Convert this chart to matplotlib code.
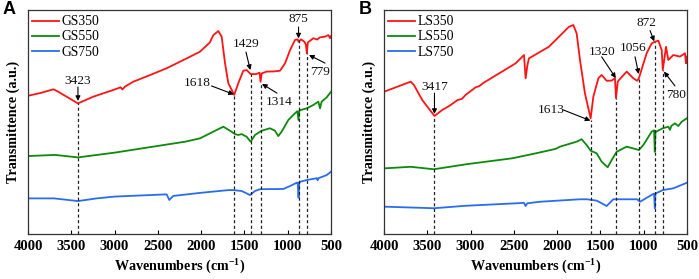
import matplotlib
matplotlib.use("Agg")
import matplotlib.pyplot as plt

plt.rcParams['font.family'] = ['Liberation Serif', 'DejaVu Serif']
plt.rcParams['mathtext.fontset'] = 'custom'
plt.rcParams['mathtext.rm'] = 'Liberation Serif:bold'
plt.rcParams['mathtext.it'] = 'Liberation Serif:bold'
plt.rcParams['mathtext.bf'] = 'Liberation Serif:bold'

# ---------------- Panel A data ----------------
gs350_wn = [4000, 3850, 3707, 3650, 3423, 3246, 3015, 2930, 2910, 2880, 2783, 2600, 2398, 2167,
            2013, 1900, 1859, 1802, 1763, 1724, 1686, 1618, 1571, 1513, 1474, 1429, 1364, 1325,
            1314, 1300, 1243, 1150, 1089, 1031, 973, 916, 885, 875, 846, 807, 790, 779, 768, 704,
            660, 627, 569, 530, 511, 500]
gs350_t = [61.7, 63.0, 64.6, 63.5, 58.3, 61.3, 64.3, 65.5, 64.5, 65.8, 68.0, 70.8, 74.0, 78.4,
           81.4, 85.5, 88.8, 90.6, 88.1, 76.2, 67.3, 62.1, 67.3, 72.9, 73.2, 71.4, 71.4, 72.0,
           68.0, 71.7, 72.5, 72.6, 72.9, 76.2, 82.1, 86.6, 86.9, 85.8, 86.9, 85.8, 84.5, 80.7,
           85.5, 87.4, 86.8, 87.8, 88.1, 88.8, 87.4, 88.4]

gs550_wn = [4000, 3688, 3423, 3003, 2437, 2186, 2013, 1859, 1744, 1667, 1609, 1571, 1532, 1474,
            1428, 1378, 1301, 1205, 1147, 1109, 1070, 993, 916, 889, 875, 866, 846, 779, 704,
            646, 627, 608, 550, 500]
gs550_t = [34.8, 35.3, 34.2, 36.3, 39.7, 41.2, 42.7, 45.7, 47.9, 46.1, 44.6, 44.2, 44.6, 43.4,
           41.2, 44.2, 46.1, 47.2, 46.1, 43.7, 45.7, 50.9, 53.9, 54.8, 50.9, 55.0, 55.4, 56.1,
           57.6, 59.1, 56.1, 59.1, 61.0, 63.5]

gs750_wn = [4000, 3700, 3423, 3207, 3000, 2398, 2368, 2322, 2000, 1686, 1628, 1532, 1436, 1378,
            1320, 1051, 973, 896, 885, 875, 866, 857, 779, 664, 655, 645, 550, 500]
gs750_t = [15.9, 15.9, 14.7, 15.9, 16.7, 17.7, 15.2, 17.0, 18.4, 19.6, 19.6, 19.2, 17.4, 19.2,
           20.0, 20.1, 21.4, 22.9, 22.9, 16.2, 23.0, 23.3, 24.1, 24.9, 24.0, 24.9, 26.3, 27.8]

# ---------------- Panel B data ----------------
ls350_wn = [4000, 3692, 3654, 3558, 3417, 3326, 3249, 3150, 3100, 3057, 2941, 2900, 2850, 2479,
            2383, 2364, 2345, 2326, 2095, 1864, 1813, 1775, 1736, 1679, 1613, 1582, 1524, 1486,
            1428, 1370, 1332, 1320, 1300, 1287, 1197, 1120, 1075, 1056, 966, 908, 872, 831, 792,
            780, 742, 716, 658, 581, 523, 512, 500]
ls350_t = [63.5, 68.0, 66.5, 59.8, 52.7, 55.4, 57.1, 59.8, 60.3, 62.1, 65.5, 66.0, 67.5, 76.2,
           79.9, 69.5, 75.0, 78.4, 83.6, 92.5, 93.3, 89.6, 77.7, 62.8, 51.6, 61.3, 69.5, 71.0,
           68.4, 68.5, 69.5, 60.6, 68.0, 68.7, 72.5, 69.5, 68.4, 69.5, 80.7, 85.1, 85.8, 86.3,
           82.1, 73.2, 83.6, 77.7, 79.9, 79.2, 80.7, 76.2, 79.2]

ls550_wn = [4000, 3692, 3423, 3057, 2518, 2248, 2017, 1967, 1775, 1717, 1659, 1613, 1543, 1486,
            1416, 1370, 1313, 1197, 1056, 1005, 908, 880, 872, 864, 857, 780, 716, 697, 680, 639,
            600, 562, 500]
ls550_t = [29.3, 30.0, 28.9, 31.1, 33.8, 36.0, 38.0, 39.0, 41.2, 42.3, 39.7, 37.2, 36.0, 32.3,
           29.8, 33.0, 36.7, 39.0, 37.5, 39.7, 45.7, 46.3, 36.7, 45.5, 45.7, 47.2, 47.9, 46.5,
           48.3, 49.4, 48.2, 50.1, 51.7]

ls750_wn = [4000, 3423, 3057, 2479, 2383, 2364, 2345, 2198, 1736, 1659, 1543, 1428, 1351, 1075,
            1043, 928, 890, 880, 872, 864, 857, 780, 658, 500]
ls750_t = [12.2, 11.5, 12.6, 13.7, 13.9, 12.5, 13.7, 14.4, 15.5, 15.5, 14.9, 12.5, 15.5, 15.5,
           14.4, 17.0, 17.9, 18.0, 11.5, 18.0, 18.2, 19.6, 20.4, 22.9]

labels_a = ['GS350', 'GS550', 'GS750']
labels_b = ['LS350', 'LS550', 'LS750']

# peak annotations: (label, peak wn, dashed-line top, text x, text y, arrow tail x, tail y, head x, head y)
peaks_a = [
    ('3423', 3423, 58.3, 3422, 68.3, 3423, 65.6, 3423, 59.4),
    ('1618', 1618, 62.1, 2048, 67.4, 1880, 66.1, 1622, 62.3),
    ('1429', 1429, 71.4, 1482, 84.8, 1482, 81.2, 1432, 73.2),
    ('1314', 1314, 68.0, 1101, 58.9, 1124, 62.9, 1297, 67.0),
    ('875', 875, 86.5, 881, 96.0, 875, 92.4, 875, 87.3),
    ('779', 779, 80.7, 627, 72.3, 569, 76.3, 754, 79.9),
]
peaks_b = [
    ('3417', 3417, 52.7, 3411, 65.6, 3417, 62.9, 3417, 53.6),
    ('1613', 1613, 51.0, 2074, 55.4, 1930, 55.4, 1616, 50.6),
    ('1320', 1320, 60.6, 1485, 81.2, 1486, 79.1, 1322, 69.6),
    ('1056', 1056, 69.5, 1127, 82.9, 1100, 79.1, 1058, 71.4),
    ('872', 872, 85.8, 966, 94.0, 927, 90.8, 878, 86.0),
    ('780', 780, 73.2, 627, 62.1, 639, 66.1, 766, 72.5),
]

colors = ['#ff1414', '#0b8a0b', '#2a6cf0']

fig = plt.figure(figsize=(6.99, 2.79), dpi=100)
axA = fig.add_axes([28 / 699, 1 - 234 / 279, 303 / 699, 224 / 279])
axB = fig.add_axes([384 / 699, 1 - 234 / 279, 303 / 699, 224 / 279])

panels = [
    (axA, [(gs350_wn, gs350_t), (gs550_wn, gs550_t), (gs750_wn, gs750_t)], labels_a, peaks_a, 'A'),
    (axB, [(ls350_wn, ls350_t), (ls550_wn, ls550_t), (ls750_wn, ls750_t)], labels_b, peaks_b, 'B'),
]

for ax, series, labels, peaks, tag in panels:
    for (wn, t), lab, c in zip(series, labels, colors):
        ax.plot(wn, t, color=c, lw=1.3, label=lab)
    for (lab, pwn, top, tx, ty, ax0, ay0, hx, hy) in peaks:
        ax.plot([pwn, pwn], [0, top], ls=(0, (2.5, 2)), color='#222222', lw=0.9)
        ax.annotate('', xy=(hx, hy), xytext=(ax0, ay0),
                    arrowprops=dict(arrowstyle='-|>', color='black', lw=0.8,
                                    mutation_scale=7, shrinkA=0, shrinkB=0))
        ax.text(tx, ty, lab, ha='center', va='center', fontsize=9.6, color='#111111')
    ax.set_xlim(4000, 500)
    ax.set_ylim(0, 100)
    ax.set_xticks([4000, 3500, 3000, 2500, 2000, 1500, 1000, 500])
    ax.set_yticks([])
    ax.tick_params(axis='x', direction='in', length=3, width=0.8, pad=4, labelsize=10.6)
    for lbl in ax.get_xticklabels():
        lbl.set_fontweight('bold')
    for s in ax.spines.values():
        s.set_color('#333333')
        s.set_linewidth(0.9)
    ax.set_xlabel('Wavenumbers (cm$^{-1}$)', fontsize=10.2, fontweight='bold', labelpad=4)
    ax.set_ylabel('Transmittence (a.u.)', fontsize=10.2, fontweight='bold', labelpad=6)
    leg = ax.legend(loc='upper left', frameon=False, fontsize=9.8, handlelength=2.0,
                    handletextpad=0.2, labelspacing=0.15, borderaxespad=0.0,
                    bbox_to_anchor=(-0.005, 1.0))
    bb = ax.get_position()
    fig.text(bb.x0 - 25 / 699, 0.995, tag, ha='left', va='top', fontsize=13,
             fontweight='bold', family='Liberation Sans')

fig.savefig('out.png', dpi=100)
